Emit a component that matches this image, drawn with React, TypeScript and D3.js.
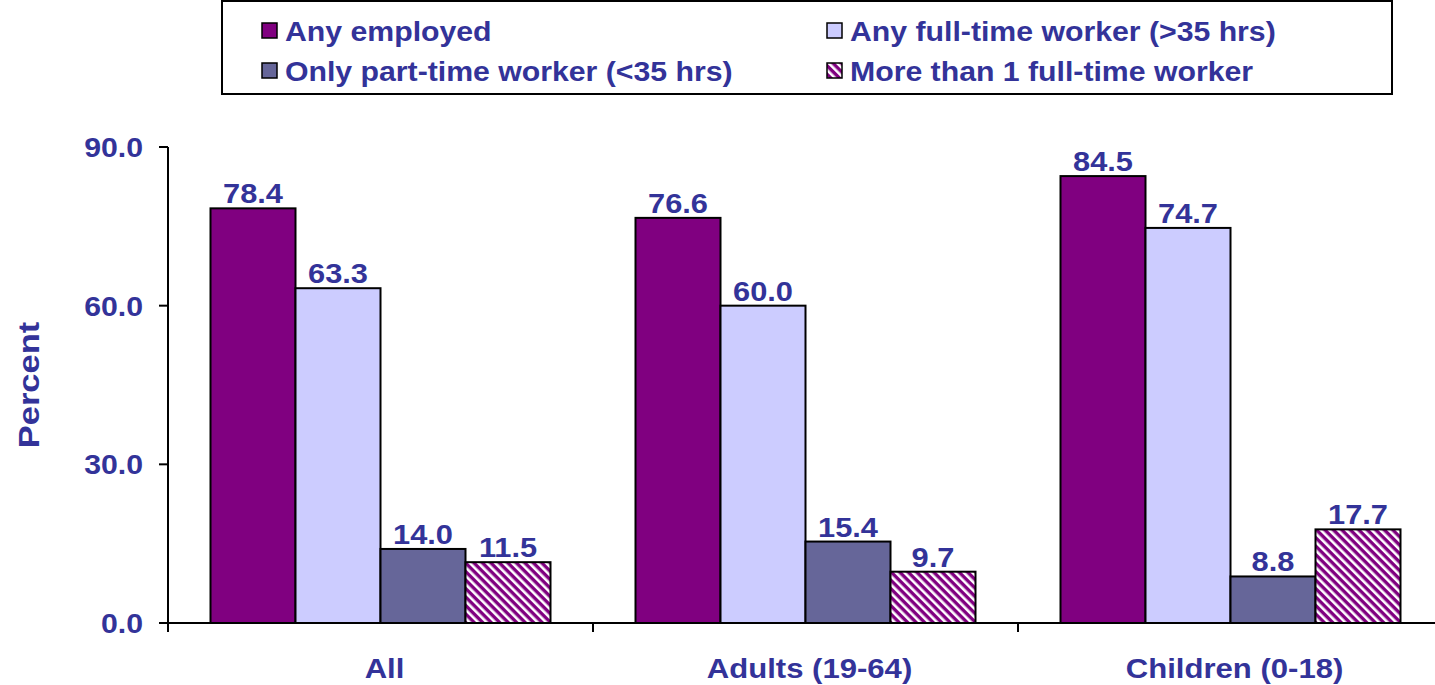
import React from "react";
import * as d3 from "d3";

const categories = ["All", "Adults (19-64)", "Children (0-18)"];
const seriesNames = [
  "Any employed",
  "Any full-time worker (>35 hrs)",
  "Only part-time worker (<35 hrs)",
  "More than 1 full-time worker",
];
const anyEmployed = [78.4, 76.6, 84.5];
const anyFullTime = [63.3, 60.0, 74.7];
const onlyPartTime = [14.0, 15.4, 8.8];
const moreThanOne = [11.5, 9.7, 17.7];
const yTicks = [0, 30, 60, 90];

const seriesValues = [anyEmployed, anyFullTime, onlyPartTime, moreThanOne];
const fills = ["#800080", "#CCCCFF", "#666699", "url(#hatch)"];
const TXT = "#333399";
const FONT = "'Liberation Sans', Arial, sans-serif";

function T({ x, y, sx = 1.1, size = 28, anchor = "start", rotate = 0, children }: any) {
  return (
    <g transform={`translate(${x},${y}) rotate(${rotate}) scale(${sx},1)`}>
      <text x={0} y={0} textAnchor={anchor} fontSize={size} fill={TXT}>{children}</text>
    </g>
  );
}

export default function App() {
  const W = 1435, H = 685;
  const x0 = 168, y0 = 623, yTop = 147;
  const bandW = 425;
  const x = d3.scaleBand<string>().domain(categories).range([x0, x0 + bandW * 3]).paddingInner(0).paddingOuter(0);
  const xInner = d3.scaleBand<number>().domain([0, 1, 2, 3]).range([0, bandW]).paddingOuter(0.5).paddingInner(0);
  const y = d3.scaleLinear().domain([0, 90]).range([y0, yTop]);

  const legendPos = [
    { lx: 262, ly: 31 },
    { lx: 827, ly: 31 },
    { lx: 262, ly: 71 },
    { lx: 827, ly: 71 },
  ];

  return (
    <svg width={W} height={H} style={{ position: "absolute", left: 0, top: 0 }} fontFamily={FONT} fontWeight="bold">
      <defs>
        <pattern id="hatch" patternUnits="userSpaceOnUse" width="6" height="6" patternTransform="rotate(-45)">
          <rect width="6" height="6" fill="#800080" />
          <rect x="0" width="2.6" height="6" fill="#ffffff" />
        </pattern>
      </defs>
      <rect x={0} y={0} width={W} height={H} fill="#fff" />
      {/* legend */}
      <rect x={222} y={1} width={1170} height={93} fill="#fff" stroke="#000" strokeWidth={2} />
      {seriesNames.map((s, i) => (
        <g key={s}>
          <rect x={legendPos[i].lx} y={legendPos[i].ly - 8} width={15} height={15} fill={fills[i]} stroke="#000" strokeWidth={1.5} />
          <T x={legendPos[i].lx + 23} y={legendPos[i].ly + 10} sx={1.08}>{s}</T>
        </g>
      ))}
      {/* bars */}
      {categories.map((c, ci) => (
        <g key={c} transform={`translate(${x(c)},0)`}>
          {seriesValues.map((vals, si) => {
            const v = vals[ci];
            const bx = xInner(si)!;
            const bw = xInner.bandwidth();
            return (
              <g key={si}>
                <rect x={bx} y={y(v)} width={bw} height={y0 - y(v)} fill={fills[si]} stroke="#000" strokeWidth={2} />
                <T x={bx + bw / 2} y={y(v) - 5} anchor="middle" sx={1.1}>{v.toFixed(1)}</T>
              </g>
            );
          })}
        </g>
      ))}
      {/* y axis */}
      <line x1={x0} x2={x0} y1={yTop} y2={y0 + 9} stroke="#000" strokeWidth={2} />
      {yTicks.map((t) => (
        <g key={t}>
          <line x1={x0 - 9} x2={x0} y1={y(t)} y2={y(t)} stroke="#000" strokeWidth={2} />
          <T x={x0 - 25} y={y(t) + 10} anchor="end" sx={1.08}>{t.toFixed(1)}</T>
        </g>
      ))}
      {/* x axis */}
      <line x1={x0 - 9} x2={W} y1={y0} y2={y0} stroke="#000" strokeWidth={2} />
      {categories.map((c) => (
        <g key={c}>
          <line x1={x(c)! + bandW} x2={x(c)! + bandW} y1={y0} y2={y0 + 9} stroke="#000" strokeWidth={2} />
          <T x={x(c)! + bandW / 2 + 4} y={678} anchor="middle" sx={1.11}>{c}</T>
        </g>
      ))}
      <T x={39} y={385} anchor="middle" rotate={-90} size={30} sx={1.15}>Percent</T>
    </svg>
  );
}
